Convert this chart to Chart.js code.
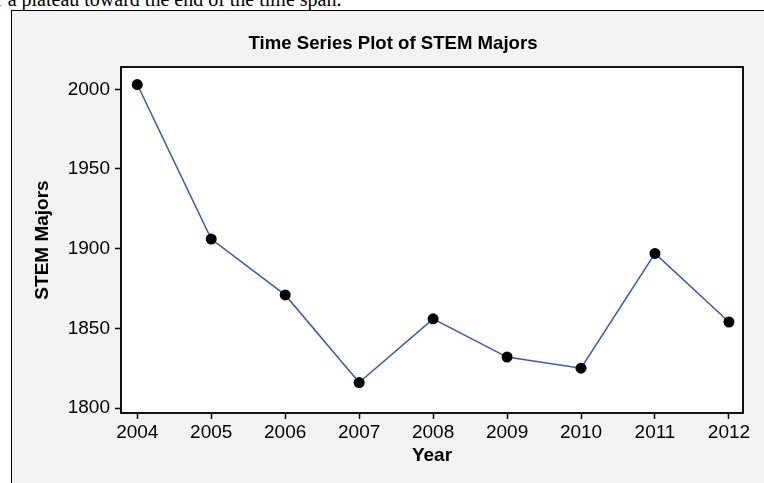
<!DOCTYPE html>
<html>
<head>
<meta charset="utf-8">
<script src="https://cdn.jsdelivr.net/npm/chart.js@4"></script>
<style>
  html, body { margin: 0; padding: 0; background: #fff; overflow: hidden; }
  body { width: 764px; height: 483px; position: relative; }
  #note {
    position: absolute; left: -14px; top: -11px; white-space: nowrap;
    font-family: "Liberation Serif", "DejaVu Serif", serif; font-size: 20px; line-height: 20px; color: #000;
  }
  #panel {
    position: absolute; left: 11px; top: 10px; width: 800px; height: 500px;
    background: #f2f2f2; border-left: 1px solid #000; border-top: 1px solid #000;
  }
  #chart { position: absolute; left: 0; top: 0; }
</style>
</head>
<body>
<div id="note">or a plateau toward the end of the time span.</div>
<div id="panel"></div>
<canvas id="chart" width="764" height="483"></canvas>
<script>
var years = [2004, 2005, 2006, 2007, 2008, 2009, 2010, 2011, 2012];
var stemMajors = [2003, 1906, 1871, 1816, 1856, 1832, 1825, 1897, 1854];
var yTicks = [1800, 1850, 1900, 1950, 2000];
var chartTitle = 'Time Series Plot of STEM Majors';

Chart.defaults.font.family = '"Liberation Sans", Arial, sans-serif';
Chart.defaults.color = '#000';

var points = years.map(function (y, i) { return { x: y, y: stemMajors[i] }; });

// white plot area + black frame + title
var framePlugin = {
    id: 'frame',
    beforeDatasetsDraw: function (chart) {
        var a = chart.chartArea, ctx = chart.ctx;
        ctx.save();
        ctx.fillStyle = '#fff';
        ctx.fillRect(a.left, a.top, a.right - a.left, a.bottom - a.top);
        ctx.restore();
    },
    afterDraw: function (chart) {
        var a = chart.chartArea, ctx = chart.ctx;
        ctx.save();
        ctx.strokeStyle = '#111';
        ctx.lineWidth = 2;
        ctx.strokeRect(a.left, a.top, a.right - a.left, a.bottom - a.top);
        ctx.fillStyle = '#000';
        ctx.font = 'bold 18.6px "Liberation Sans", Arial, sans-serif';
        ctx.textAlign = 'center';
        ctx.textBaseline = 'middle';
        ctx.fillText(chartTitle, 393, 44);
        ctx.restore();
    }
};

new Chart(document.getElementById('chart').getContext('2d'), {
    type: 'line',
    data: {
        datasets: [{
            label: 'STEM Majors',
            data: points,
            borderColor: '#3559b0',
            borderWidth: 1.5,
            pointRadius: 5.5,
            pointBackgroundColor: '#000',
            pointBorderColor: '#000',
            pointBorderWidth: 0,
            tension: 0
        }]
    },
    options: {
        responsive: false,
        animation: false,
        layout: { padding: { left: 11, right: 21, top: 67, bottom: 0 } },
        plugins: {
            legend: { display: false },
            tooltip: { enabled: false }
        },
        scales: {
            x: {
                type: 'linear',
                min: 2003.78,
                max: 2012.19,
                border: { display: false },
                grid: { drawOnChartArea: false, drawTicks: true, tickLength: 6, tickColor: '#000', tickWidth: 1.5 },
                ticks: {
                    stepSize: 1,
                    includeBounds: false,
                    padding: 2,
                    font: { size: 19 },
                    color: '#000',
                    callback: function (v) { return String(v); }
                },
                title: { display: true, text: 'Year', font: { size: 19, weight: 'bold' }, color: '#000', padding: { top: 0, bottom: 16 } },
                afterFit: function (scale) { scale.height = 70; }
            },
            y: {
                min: 1796.9,
                max: 2014,
                border: { display: false },
                grid: { drawOnChartArea: false, drawTicks: true, tickLength: 6, tickColor: '#000', tickWidth: 1.5 },
                afterBuildTicks: function (scale) {
                    scale.ticks = yTicks.map(function (v) { return { value: v }; });
                },
                ticks: {
                    padding: 5,
                    font: { size: 19 },
                    color: '#000',
                    callback: function (v) { return String(v); }
                },
                title: { display: true, text: 'STEM Majors', font: { size: 19, weight: 'bold' }, color: '#000', padding: { top: 20, bottom: 0 } },
                afterFit: function (scale) { scale.width = 110; }
            }
        }
    },
    plugins: [framePlugin]
});
</script>
</body>
</html>
